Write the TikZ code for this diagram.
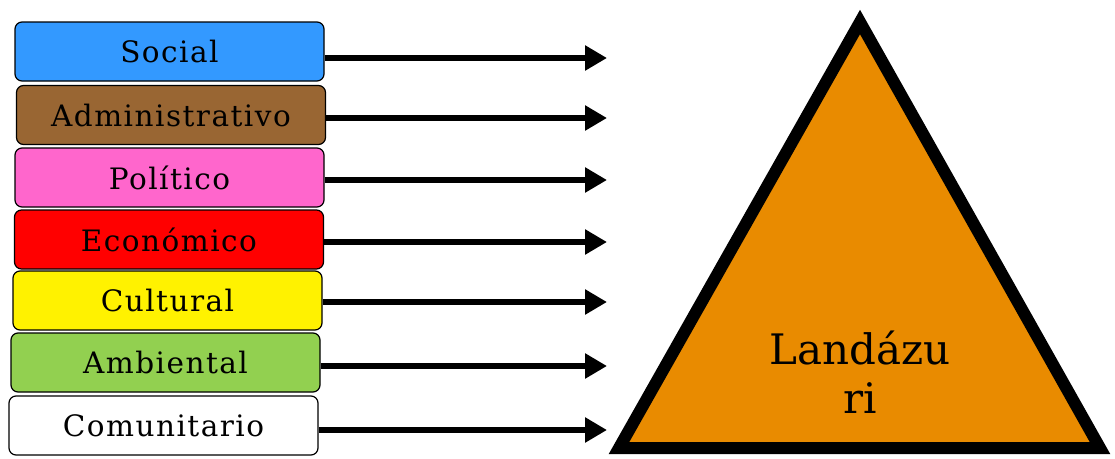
\documentclass[tikz,border=0pt]{standalone}
\usepackage{fontspec}
\setmainfont{DejaVu Serif}
\newfontfamily\cajafont[LetterSpace=5]{DejaVu Serif}
\usepackage{tikz}
\usetikzlibrary{arrows.meta,positioning,calc}
\usepackage{xcolor}
\definecolor{azul}{HTML}{3399FF}
\definecolor{cafe}{HTML}{996633}
\definecolor{rosa}{HTML}{FF66CC}
\definecolor{verde}{HTML}{92D050}
\definecolor{naranja}{HTML}{E98B00}

\begin{document}
\begin{tikzpicture}[x=1pt, y=-1pt,
    caja/.style={draw, line width=1.2pt, rounded corners=7pt, minimum width=309pt, minimum height=59pt, inner sep=0pt, font=\cajafont\fontsize{29.5}{32}\selectfont},
    flecha/.style={line width=6.5pt, -{Triangle[length=22pt,width=24pt]}}]
            \useasboundingbox (0,0) rectangle (1115,458);

            % Aspects
            \node[caja, fill=azul] (b1) at (169.5,51.5) {Social};
            \node[caja, fill=cafe] (b2) at (171,115) {Administrativo};
            \node[caja, fill=rosa] (b3) at (169.5,177.5) {Político};
            \node[caja, fill=red] (b4) at (169,239.5) {Económico};
            \node[caja, fill=yellow] (b5) at (167.5,300.5) {Cultural};
            \node[caja, fill=verde] (b6) at (165.5,362.5) {Ambiental};
            \node[caja, fill=white] (b7) at (163.5,425.5) {Comunitario};

            % Arrow ends
            \coordinate (e1) at (607,58);
            \coordinate (e2) at (607,118);
            \coordinate (e3) at (607,180);
            \coordinate (e4) at (607,242);
            \coordinate (e5) at (607,302);
            \coordinate (e6) at (607,366);
            \coordinate (e7) at (607,430);

            % Connections
            \draw[flecha] (b1.east |- e1) -- (e1);
            \draw[flecha] (b2.east |- e2) -- (e2);
            \draw[flecha] (b3.east |- e3) -- (e3);
            \draw[flecha] (b4.east |- e4) -- (e4);
            \draw[flecha] (b5.east |- e5) -- (e5);
            \draw[flecha] (b6.east |- e6) -- (e6);
            \draw[flecha] (b7.east |- e7) -- (e7);

            % Triangle
            \draw[fill=naranja, line width=12pt, line join=miter] (860,22) -- (1100,448) -- (619,448) -- cycle;
            \node[align=center, font=\fontsize{42}{49}\selectfont] (land) at (860,372) {Landázu\\ri};
\end{tikzpicture}
\end{document}
